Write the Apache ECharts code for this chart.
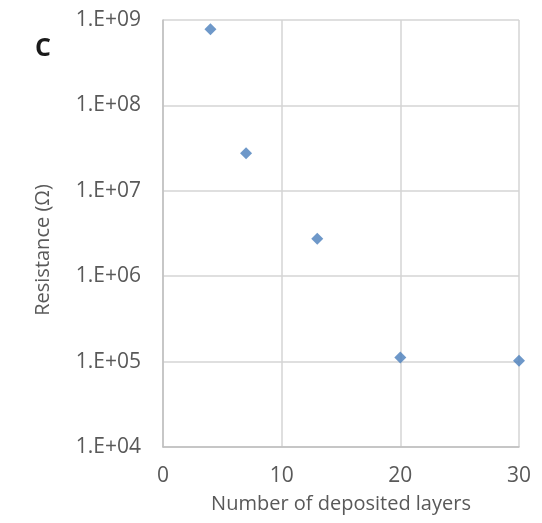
<!DOCTYPE html>
<html>
<head>
<meta charset="utf-8">
<script src="https://cdn.jsdelivr.net/npm/echarts@6/dist/echarts.min.js"></script>
<style>
  html, body { margin: 0; padding: 0; background: #fff; }
  #chart { width: 542px; height: 523px; }
</style>
</head>
<body>
<div id="chart"></div>
<script>
// Sheet resistance versus number of deposited layers
const layers = [4, 7, 13, 20, 30];
const resistance = [7.8e8, 2.75e7, 2.75e6, 1.12e5, 1.02e5];
const xTicks = [0, 10, 20, 30];
const yTicks = [1e4, 1e5, 1e6, 1e7, 1e8, 1e9];

const fontFamily = '"Open Sans", "Liberation Sans", sans-serif';
const gridColor = '#d4d4d4';
const labelColor = '#595959';

function sciLabel(v) {
  const e = Math.round(Math.log10(v));
  return '1.E+' + (e < 10 ? '0' + e : String(e));
}

const chart = echarts.init(document.getElementById('chart'), null, { renderer: 'canvas' });

chart.setOption({
  backgroundColor: '#ffffff',
  animation: false,
  grid: { left: 163, right: 23, top: 20, bottom: 76, containLabel: false },
  graphic: [{
    type: 'text',
    left: 35,
    top: 36,
    style: { text: 'C', font: 'bold 25px ' + fontFamily, fill: '#1a1a1a' }
  }, {
    // vertical axis title, set a little below the plot's midline
    type: 'text',
    x: 43,
    y: 250,
    rotation: Math.PI / 2,
    style: {
      text: 'Resistance (Ω)',
      font: '20px ' + fontFamily,
      fill: labelColor,
      align: 'center',
      verticalAlign: 'middle'
    }
  }],
  xAxis: {
    type: 'value',
    min: xTicks[0],
    max: xTicks[xTicks.length - 1],
    interval: 10,
    name: 'Number of deposited layers',
    nameLocation: 'middle',
    nameGap: 47,
    nameTextStyle: { fontFamily, fontSize: 20, color: labelColor },
    axisLine: { show: true, lineStyle: { color: '#bfbfbf', width: 1.5 } },
    axisTick: { show: false },
    axisLabel: { fontFamily, fontSize: 21, color: labelColor, margin: 19 },
    splitLine: { show: true, lineStyle: { color: gridColor, width: 1.5 } }
  },
  yAxis: {
    type: 'log',
    logBase: 10,
    min: yTicks[0],
    max: yTicks[yTicks.length - 1],
    axisLine: { show: true, lineStyle: { color: '#bfbfbf', width: 1.5 } },
    axisTick: { show: false },
    axisLabel: { fontFamily, fontSize: 21, color: labelColor, margin: 22, formatter: sciLabel },
    splitLine: { show: true, lineStyle: { color: gridColor, width: 1.5 } }
  },
  series: [{
    type: 'scatter',
    data: layers.map((x, i) => [x, resistance[i]]),
    symbol: 'diamond',
    symbolSize: [12, 12],
    itemStyle: { color: '#4a7ebb' },
    z: 5
  }]
});
</script>
</body>
</html>
